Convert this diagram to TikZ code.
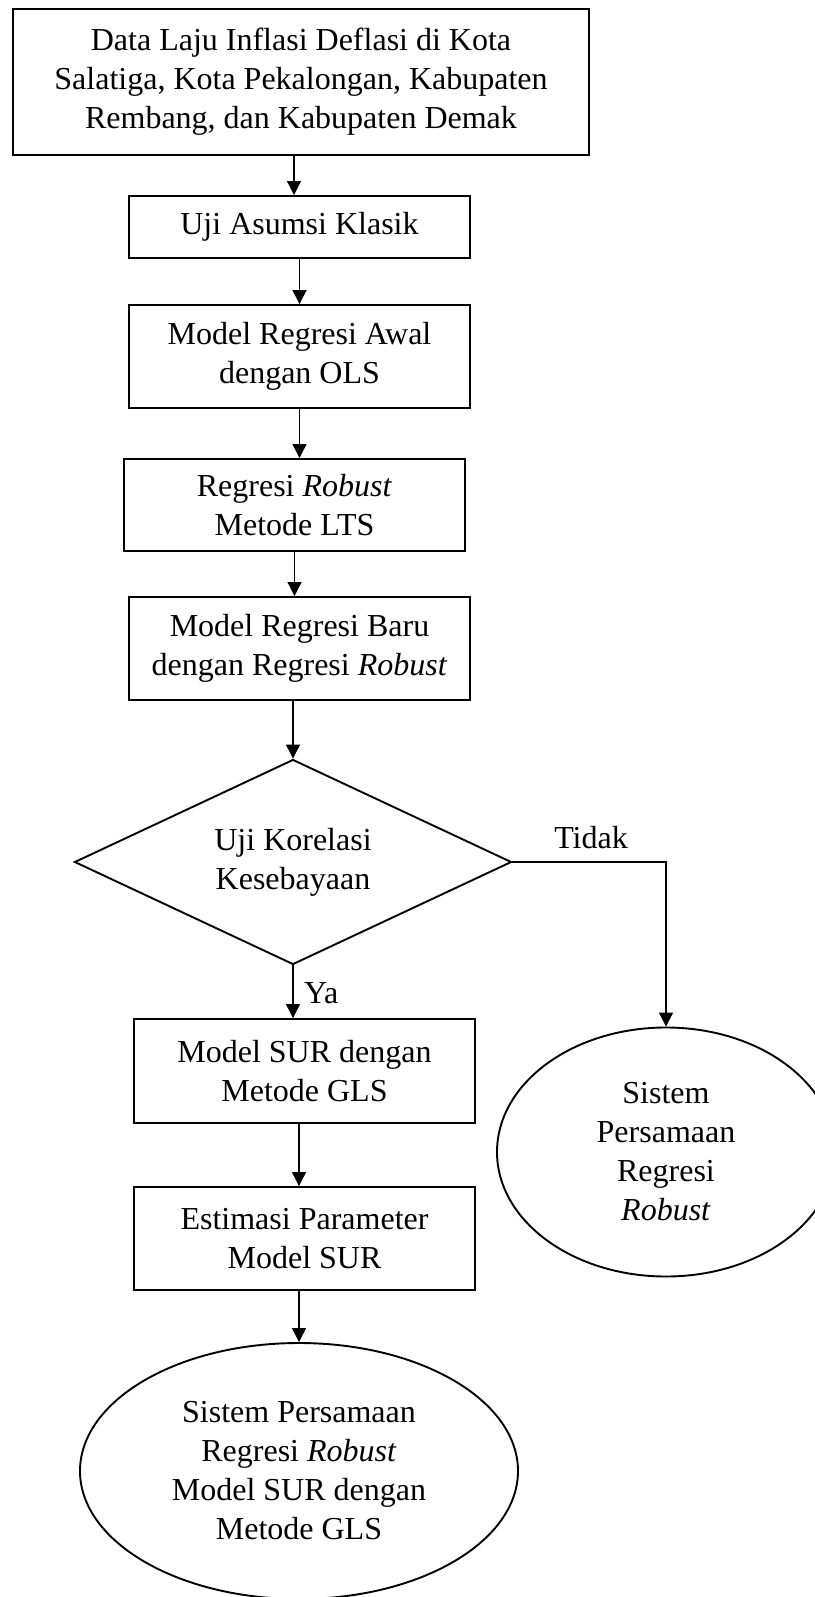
\documentclass[tikz,border=0pt]{standalone}
\usepackage{fontspec}
\setmainfont{Liberation Serif}
\usetikzlibrary{shapes.geometric,arrows.meta,calc}
\tikzset{
  box/.style={draw, line width=1.9pt, rectangle, inner sep=0pt, align=center, minimum width=341pt},
  oval/.style={draw, line width=1.9pt, ellipse, inner sep=0pt, align=center},
  decide/.style={draw, line width=1.9pt, diamond, inner sep=0pt, align=center, aspect=2.13, minimum width=437pt, minimum height=205pt},
  arr/.style={line width=1.1pt, -{Triangle[length=14pt,width=14pt]}},
  lbl/.style={inner sep=0pt}
}
\begin{document}
\begin{tikzpicture}[x=1pt,y=-1pt, font=\fontsize{32}{39}\selectfont]
\useasboundingbox (0,0) rectangle (814,1597);
\node[box, minimum width=576pt, minimum height=146pt] (n1) at (301,82) {Data Laju Inflasi Deflasi di Kota\\Salatiga, Kota Pekalongan, Kabupaten\\Rembang, dan Kabupaten Demak};
\node[box, minimum height=62pt] (n2) at (299.5,227) {Uji Asumsi Klasik};
\node[box, minimum height=103pt] (n3) at (299.5,356.5) {Model Regresi Awal\\dengan OLS};
\node[box, minimum height=92pt] (n4) at (294.5,505) {Regresi \textit{Robust}\\Metode LTS};
\node[box, minimum height=103pt] (n5) at (299.5,648.5) {Model Regresi Baru\\dengan Regresi \textit{Robust}};
\node[decide] (d) at (293,862) {Uji Korelasi\\Kesebayaan};
\node[lbl] (tidak) at (591,838) {Tidak};
\node[oval, minimum width=338pt, minimum height=249pt] (e2) at (666,1152) {Sistem\\Persamaan\\Regresi\\\textit{Robust}};
\node[lbl, anchor=west] (ya) at (304,993) {Ya};
\node[box, minimum height=104pt] (n6) at (304.5,1071) {Model SUR dengan\\Metode GLS};
\node[box, minimum height=103pt] (n7) at (304.5,1238.5) {Estimasi Parameter\\Model SUR};
\node[oval, minimum width=438pt, minimum height=256pt] (e1) at (299,1471) {Sistem Persamaan\\Regresi \textit{Robust}\\Model SUR dengan\\Metode GLS};

\draw[arr] ([xshift=-5.5pt]n2.north |- n1.south) -- ([xshift=-5.5pt]n2.north);
\draw[arr] (n3.north |- n2.south) -- (n3.north);
\draw[arr] (n3.south) -- (n3.south |- n4.north);
\draw[arr] (n4.south) -- (n4.south |- n5.north);
\draw[arr] (d.north |- n5.south) -- (d.north);
\draw[arr] (d.east) -| (e2.north);
\draw[arr] (d.south) -- (d.south |- n6.north);
\draw[arr] ([xshift=-5.5pt]n6.south) -- ([xshift=-5.5pt]n7.north);
\draw[arr] (e1.north |- n7.south) -- (e1.north);
\end{tikzpicture}
\end{document}
